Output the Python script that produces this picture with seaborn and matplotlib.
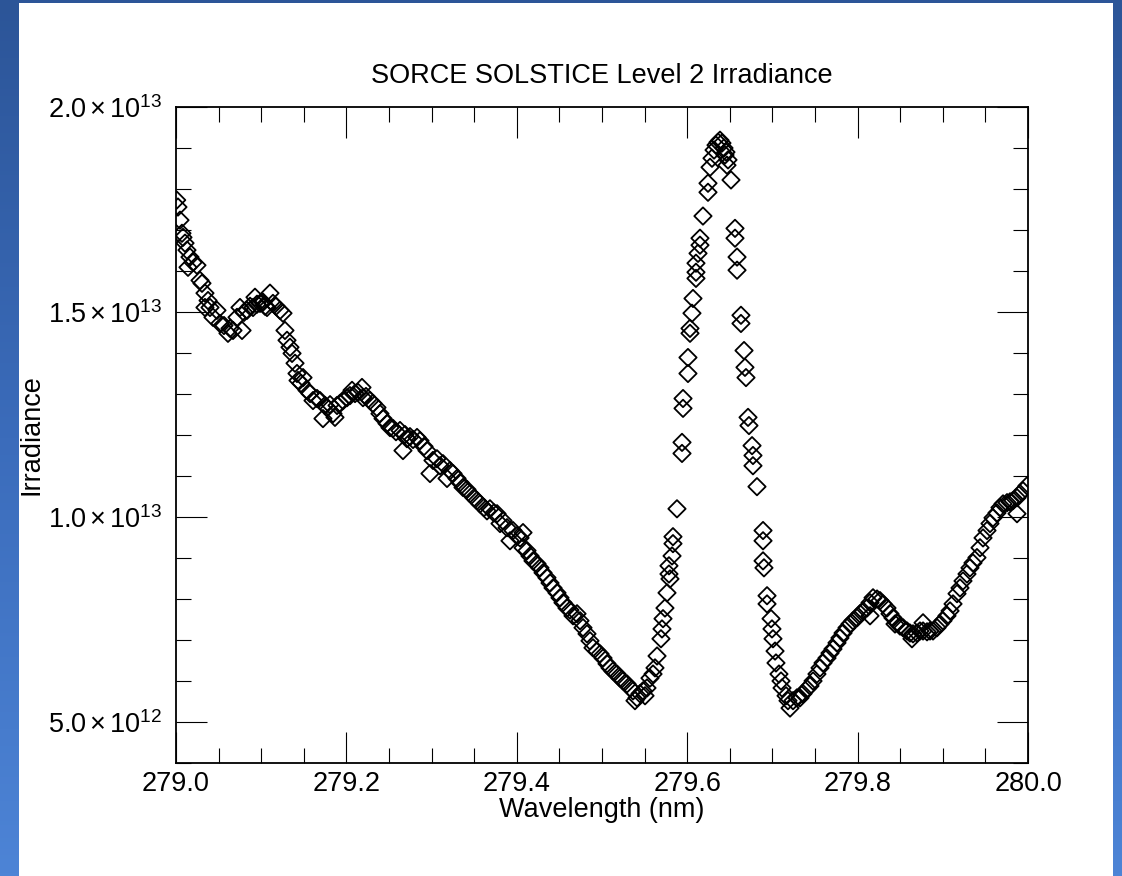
import numpy as np
import pandas as pd
import matplotlib
matplotlib.use("Agg")
import matplotlib.pyplot as plt
from matplotlib.patches import Rectangle
from matplotlib.colors import LinearSegmentedColormap
from matplotlib.ticker import MultipleLocator, FuncFormatter
import seaborn as sns

# SOLSTICE Level 2 spectral irradiance samples around the Mg II k line
wavelength_nm = [
    279.0008, 279.0023, 279.0047, 279.0070, 279.0082, 279.0106, 279.0129, 279.0141,
    279.0164, 279.0200, 279.0246, 279.0282, 279.0305, 279.0340, 279.0340, 279.0376,
    279.0399, 279.0434, 279.0481, 279.0516, 279.0563, 279.0610, 279.0634, 279.0669,
    279.0716, 279.0751, 279.0775, 279.0798, 279.0833, 279.0869, 279.0904, 279.0927,
    279.0951, 279.0986, 279.1021, 279.1045, 279.1068, 279.1103, 279.1138, 279.1174,
    279.1221, 279.1256, 279.1279, 279.1303, 279.1338, 279.1362, 279.1397, 279.1420,
    279.1432, 279.1467, 279.1491, 279.1538, 279.1573, 279.1608, 279.1655, 279.1690,
    279.1725, 279.1749, 279.1772, 279.1808, 279.1843, 279.1866, 279.1890, 279.1925,
    279.1960, 279.2007, 279.2042, 279.2066, 279.2101, 279.2136, 279.2183, 279.2195,
    279.2230, 279.2277, 279.2312, 279.2359, 279.2394, 279.2430, 279.2477, 279.2512,
    279.2547, 279.2582, 279.2629, 279.2664, 279.2688, 279.2711, 279.2746, 279.2782,
    279.2829, 279.2864, 279.2911, 279.2946, 279.2981, 279.3016, 279.3063, 279.3099,
    279.3134, 279.3181, 279.3216, 279.3251, 279.3298, 279.3333, 279.3369, 279.3415,
    279.3451, 279.3498, 279.3533, 279.3568, 279.3615, 279.3650, 279.3685, 279.3732,
    279.3768, 279.3803, 279.3838, 279.3885, 279.3920, 279.3955, 279.4002, 279.4038,
    279.4073, 279.4073, 279.4120, 279.4155, 279.4190, 279.4237, 279.4272, 279.4308,
    279.4354, 279.4390, 279.4425, 279.4472, 279.4507, 279.4542, 279.4589, 279.4624,
    279.4660, 279.4707, 279.4742, 279.4777, 279.4824, 279.4859, 279.4894, 279.4941,
    279.4977, 279.5012, 279.5059, 279.5094, 279.5129, 279.5176, 279.5211, 279.5246,
    279.5293, 279.5329, 279.5364, 279.5387, 279.5411, 279.5446, 279.5481, 279.5505,
    279.5528, 279.5563, 279.5599, 279.5622, 279.5646, 279.5692, 279.5704, 279.5716,
    279.5739, 279.5763, 279.5786, 279.5786, 279.5798, 279.5822, 279.5833, 279.5833,
    279.5880, 279.5939, 279.5939, 279.5951, 279.5951, 279.6009, 279.6009, 279.6033,
    279.6033, 279.6056, 279.6068, 279.6103, 279.6103, 279.6103, 279.6127, 279.6150,
    279.6150, 279.6185, 279.6244, 279.6244, 279.6268, 279.6291, 279.6315, 279.6338,
    279.6362, 279.6385, 279.6408, 279.6432, 279.6444, 279.6455, 279.6467, 279.6479,
    279.6514, 279.6561, 279.6561, 279.6585, 279.6585, 279.6631, 279.6631, 279.6667,
    279.6678, 279.6690, 279.6714, 279.6725, 279.6761, 279.6772, 279.6772, 279.6819,
    279.6890, 279.6890, 279.6890, 279.6901, 279.6937, 279.6937, 279.6984, 279.6995,
    279.7007, 279.7031, 279.7042, 279.7077, 279.7101, 279.7113, 279.7160, 279.7183,
    279.7207, 279.7242, 279.7289, 279.7324, 279.7359, 279.7406, 279.7441, 279.7477,
    279.7523, 279.7559, 279.7594, 279.7641, 279.7676, 279.7711, 279.7758, 279.7793,
    279.7829, 279.7876, 279.7911, 279.7946, 279.7993, 279.8028, 279.8063, 279.8110,
    279.8146, 279.8146, 279.8181, 279.8228, 279.8263, 279.8298, 279.8345, 279.8380,
    279.8415, 279.8439, 279.8462, 279.8498, 279.8533, 279.8580, 279.8615, 279.8638,
    279.8650, 279.8697, 279.8732, 279.8768, 279.8768, 279.8815, 279.8850, 279.8885,
    279.8932, 279.8967, 279.9002, 279.9049, 279.9085, 279.9120, 279.9167, 279.9202,
    279.9237, 279.9284, 279.9319, 279.9354, 279.9401, 279.9437, 279.9472, 279.9519,
    279.9554, 279.9589, 279.9636, 279.9671, 279.9707, 279.9754, 279.9789, 279.9824,
    279.9871, 279.9871, 279.9906, 279.9941, 279.9988,
]

# irradiance in units of 1e12
irradiance_e12 = [
    17.73, 17.56, 17.24, 16.92, 16.82, 16.68, 16.51, 16.09,
    16.34, 16.21, 16.14, 15.77, 15.70, 15.46, 15.11, 15.28,
    15.11, 14.87, 15.04, 14.72, 14.67, 14.48, 14.60, 14.55,
    14.87, 15.11, 14.55, 14.99, 15.04, 15.14, 15.11, 15.36,
    15.19, 15.21, 15.24, 15.14, 15.11, 15.46, 15.21, 15.14,
    15.04, 14.97, 14.55, 14.31, 14.14, 13.99, 13.75, 13.50,
    13.33, 13.26, 13.40, 13.09, 13.01, 12.84, 12.89, 12.84,
    12.40, 12.72, 12.67, 12.74, 12.52, 12.43, 12.72, 12.77,
    12.84, 12.91, 12.96, 13.09, 13.01, 13.04, 13.16, 12.91,
    12.94, 12.84, 12.77, 12.67, 12.52, 12.40, 12.28, 12.18,
    12.16, 12.08, 12.11, 11.62, 12.01, 11.91, 11.96, 11.89,
    11.94, 11.86, 11.72, 11.62, 11.06, 11.38, 11.42, 11.25,
    11.30, 10.94, 11.13, 11.06, 10.94, 10.84, 10.72, 10.67,
    10.57, 10.47, 10.40, 10.32, 10.23, 10.15, 10.20, 10.10,
    10.08, 9.84, 9.91, 9.74, 9.42, 9.67, 9.54, 9.49,
    9.62, 9.25, 9.18, 9.05, 8.93, 8.86, 8.76, 8.64,
    8.52, 8.39, 8.27, 8.15, 8.03, 7.91, 7.78, 7.73,
    7.59, 7.64, 7.47, 7.30, 7.15, 6.98, 6.81, 6.73,
    6.66, 6.56, 6.42, 6.32, 6.24, 6.17, 6.07, 6.00,
    5.93, 5.83, 5.76, 5.52, 5.59, 5.69, 5.76, 5.64,
    5.83, 6.07, 6.17, 6.32, 6.61, 7.03, 7.27, 7.52,
    7.78, 8.15, 8.61, 8.81, 8.49, 9.05, 9.35, 9.52,
    10.20, 11.55, 11.82, 12.65, 12.89, 13.50, 13.89, 14.48,
    14.60, 14.97, 15.33, 15.82, 15.97, 16.19, 16.43, 16.63,
    16.80, 17.34, 17.92, 18.14, 18.53, 18.75, 18.95, 19.07,
    19.14, 19.19, 19.12, 19.00, 18.83, 18.90, 18.58, 18.71,
    18.22, 17.04, 16.80, 16.34, 16.02, 14.92, 14.72, 14.06,
    13.65, 13.40, 12.43, 12.23, 11.74, 11.50, 11.25, 10.74,
    9.67, 9.42, 8.93, 8.76, 8.08, 7.88, 7.52, 7.27,
    7.03, 6.73, 6.44, 6.17, 6.00, 5.83, 5.64, 5.52,
    5.34, 5.52, 5.59, 5.59, 5.69, 5.81, 5.88, 6.00,
    6.17, 6.32, 6.44, 6.56, 6.68, 6.78, 6.93, 7.05,
    7.17, 7.30, 7.39, 7.47, 7.54, 7.64, 7.71, 7.78,
    7.91, 7.59, 8.03, 8.00, 7.96, 7.88, 7.78, 7.64,
    7.54, 7.39, 7.42, 7.34, 7.30, 7.22, 7.17, 7.03,
    7.15, 7.17, 7.22, 7.22, 7.42, 7.20, 7.22, 7.22,
    7.30, 7.39, 7.47, 7.59, 7.71, 7.88, 8.13, 8.27,
    8.44, 8.61, 8.76, 8.88, 9.01, 9.25, 9.49, 9.67,
    9.84, 9.98, 10.10, 10.23, 10.32, 10.35, 10.37, 10.40,
    10.08, 10.47, 10.57, 10.64, 10.76,
]

x_major_ticks = [279.0, 279.2, 279.4, 279.6, 279.8, 280.0]
y_major_ticks = [5.0e12, 1.0e13, 1.5e13, 2.0e13]

df = pd.DataFrame({
    "wavelength": wavelength_nm,
    "irradiance": np.asarray(irradiance_e12) * 1e12,
})

sns.set_style("ticks")
plt.rcParams["font.family"] = ["Liberation Sans", "DejaVu Sans"]
plt.rcParams["mathtext.fontset"] = "custom"
plt.rcParams["mathtext.rm"] = "Liberation Sans"
plt.rcParams["mathtext.it"] = "Liberation Sans"
plt.rcParams["mathtext.default"] = "regular"

W, H = 1122, 876
fig = plt.figure(figsize=(W / 100, H / 100), dpi=100)

# slide backdrop: blue gradient with a white panel
bg = fig.add_axes([0, 0, 1, 1], zorder=-10)
grad = np.linspace(0, 1, 256).reshape(-1, 1)
cmap = LinearSegmentedColormap.from_list("slide", ["#2c5598", "#3b6cbb", "#4d84d6"])
bg.imshow(grad, aspect="auto", cmap=cmap, extent=[0, 1, 0, 1], origin="upper")
bg.add_patch(Rectangle((19 / W, 0), (1113 - 19) / W, (H - 3) / H,
                       facecolor="white", edgecolor="none"))
bg.set_xlim(0, 1)
bg.set_ylim(0, 1)
bg.axis("off")

ax = fig.add_axes([176 / W, 1 - 763 / H, (1028 - 176) / W, (763 - 107) / H])
ax.set_facecolor("white")

sns.scatterplot(data=df, x="wavelength", y="irradiance", ax=ax,
                marker="D", s=78, color="black", facecolor="none",
                edgecolor="black", linewidth=1.3, legend=False)

ax.set_xlim(279.0, 280.0)
ax.set_ylim(4.0e12, 2.0e13)

ax.set_xticks(x_major_ticks)
ax.xaxis.set_minor_locator(MultipleLocator(0.05))
ax.set_yticks(y_major_ticks)
ax.yaxis.set_minor_locator(MultipleLocator(1.0e12))


def sci_label(v, pos=None):
    exp = int(np.floor(np.log10(v)))
    mant = v / 10 ** exp
    return f"${mant:.1f}\\,{{\\times}}\\,10^{{{exp}}}$"


ax.xaxis.set_major_formatter(FuncFormatter(lambda v, p: f"{v:.1f}"))
ax.yaxis.set_major_formatter(FuncFormatter(sci_label))

fs = 19.5
ax.tick_params(which="both", direction="in", top=True, right=True,
               color="black", width=0.8, labelsize=fs, labelcolor="black")
ax.tick_params(which="major", length=22)
ax.tick_params(which="minor", length=11)
ax.tick_params(axis="x", which="major", pad=6)
ax.tick_params(axis="y", which="major", pad=10)

for sp in ax.spines.values():
    sp.set_visible(True)
    sp.set_color("black")
    sp.set_linewidth(1.3)

ax.set_title("SORCE SOLSTICE Level 2 Irradiance", fontsize=fs, pad=17, color="black")
ax.set_xlabel("Wavelength (nm)", fontsize=fs, labelpad=0, color="black")
ax.set_ylabel("Irradiance", fontsize=fs, color="black")
ax.yaxis.set_label_coords(-0.154, 0.5)

fig.savefig("out.png", dpi=100)
